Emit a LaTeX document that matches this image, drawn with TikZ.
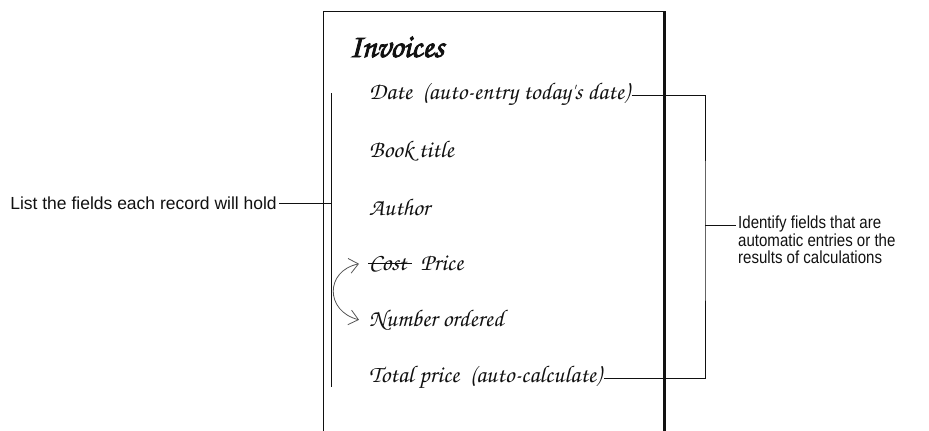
\documentclass[tikz,border=0pt]{standalone}
\usepackage{fontspec}
\setmainfont{Liberation Sans}
\newfontfamily\handfont{TeX Gyre Chorus}
\usetikzlibrary{arrows.meta,positioning}
\definecolor{ink}{HTML}{111111}
\definecolor{pencil}{HTML}{555555}

\begin{document}
\begin{tikzpicture}[
  x=1pt, y=-1pt,
  font=\fontsize{17.5}{17.3}\selectfont,
  field/.style={font=\handfont\fontsize{24}{26}\selectfont, text=ink, inner sep=0pt, anchor=base west},
  heading/.style={font=\handfont\addfontfeature{FakeBold=2.5}\fontsize{33}{35}\selectfont, text=ink, inner sep=0pt, anchor=base west},
  note/.style={inner sep=2pt, align=left, text=ink},
  lead/.style={line width=1pt, ink},
  swap/.style={{Straight Barb[length=9pt,width=15pt]}-{Straight Barb[length=9pt,width=15pt]}, pencil, line width=0.8pt}
]
\useasboundingbox (0,0) rectangle (929,431);
% the sheet
\draw[lead] (323,431) -- (323,11) -- (664,11);
\draw[line width=3pt, ink] (664,11) -- (664,431);

% fields
\node[heading] (title) at (349,57) {Invoices};
\node[field] (date) at (369,99) {Date\ \ (auto-entry today's date)};
\node[field, below=58pt of date.base west, anchor=base west] (book) {Book title};
\node[field, below=58pt of book.base west, anchor=base west] (author) {Author};
\node[field, below=55pt of author.base west, anchor=base west] (cost) {Cost};
\node[field, right=14pt of cost.base east, anchor=base west] (price) {Price};
\node[field, below=56pt of cost.base west, anchor=base west] (number) {Number ordered};
\node[field, below=56pt of number.base west, anchor=base west] (total) {Total price\ \ (auto-calculate)};

% strike through and swap
\draw[lead, line width=1.2pt] ([xshift=-1pt]cost.west) -- ([xshift=6pt]cost.east);
\draw[swap] ([xshift=-10pt]cost.west) .. controls (325,271) and (325,311) .. ([xshift=-10pt]number.west);

% left bracket
\coordinate (barTop) at (331,93);
\coordinate (barBot) at (331,387);
\draw[lead] (barTop) -- (barBot);
\node[note, anchor=base east] (listnote) at (279,209) {List the fields each record will hold};
\draw[lead] ([yshift=6pt]listnote.base east) -- ([yshift=6pt]listnote.base east -| barTop);

% right bracket
\node[note, anchor=north west, font=\addfontfeature{FakeStretch=0.86}\fontsize{17.5}{17.3}\selectfont] (idnote) at (736,214) {Identify fields that are\\automatic entries or the\\results of calculations};
\coordinate (idtip) at ([yshift=-11pt]idnote.north west);
\coordinate (barR) at (705,0);
\draw[lead] ([xshift=2pt,yshift=4pt]date.base east) -| (barR |- idtip) |- ([xshift=2pt,yshift=4pt]total.base east);
\draw[lead] (barR |- idtip) -- (idtip);
\end{tikzpicture}
\end{document}
